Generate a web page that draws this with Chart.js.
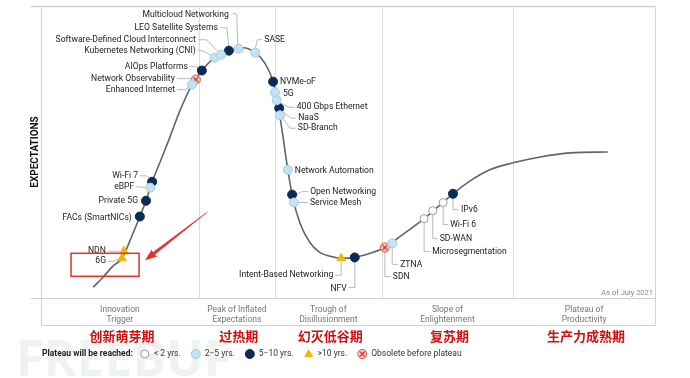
<!DOCTYPE html>
<html>
<head>
<meta charset="utf-8">
<script src="https://cdn.jsdelivr.net/npm/chart.js@4.4.1/dist/chart.umd.min.js"></script>
<style>
html, body { margin: 0; padding: 0; background: #fff; }
#wrap { width: 690px; height: 378px; position: relative; }
</style>
</head>
<body>
<div id="wrap"><canvas id="hype"></canvas></div>
<script>
// Hype cycle curve (x = maturity 0-100, y = expectations 0-100)
const curveX = [8.5, 10.1, 11.7, 13.2, 14.7, 16.1, 17.1, 18.1, 19.4, 21.0, 22.6, 24.6, 26.2, 28.3, 30.6, 32.9, 34.9, 36.5, 37.8, 38.6, 39.4, 40.2, 41.0, 42.2, 43.8, 45.4, 47.1, 48.9, 51.1, 53.6, 56.0, 58.5, 62.4, 67.1, 69.9, 73.1, 76.9, 81.3, 86.2, 92.3];
const curveY = [3.7, 7.1, 10.9, 13.6, 20.7, 27.9, 33.3, 39.8, 46.6, 55.1, 64.0, 73.1, 77.9, 82.3, 84.7, 85.7, 84.0, 80.3, 74.1, 66.3, 55.4, 43.9, 34.3, 25.5, 19.0, 15.6, 14.3, 13.6, 13.9, 15.3, 17.3, 21.1, 27.2, 35.7, 40.1, 43.9, 46.3, 48.3, 49.7, 50.0];

// Technologies on the curve
const techNames = ['6G', 'NDN', 'FACs (SmartNICs)', 'Private 5G', 'eBPF', 'Wi-Fi 7', 'Enhanced Internet', 'Network Observability', 'AIOps Platforms', 'Kubernetes Networking (CNI)', 'Software-Defined Cloud Interconnect', 'LEO Satellite Systems', 'Multicloud Networking', 'SASE', 'NVMe-oF', '5G', '400 Gbps Ethernet', 'NaaS', 'SD-Branch', 'Network Automation', 'Open Networking', 'Service Mesh', 'Intent-Based Networking', 'NFV', 'SDN', 'ZTNA', 'Microsegmentation', 'SD-WAN', 'Wi-Fi 6', 'IPv6'];
const techX = [13.2, 13.5, 16.1, 17.1, 17.8, 18.1, 24.6, 25.2, 26.2, 28.3, 29.3, 30.6, 32.2, 34.9, 37.8, 38.1, 38.4, 38.8, 38.9, 40.2, 40.9, 41.2, 48.9, 51.1, 56.0, 57.2, 62.4, 63.8, 65.5, 67.1];
const techY = [13.6, 16.0, 27.9, 33.3, 37.8, 39.8, 73.1, 74.8, 77.9, 82.3, 83.3, 84.7, 85.4, 84.0, 74.1, 70.4, 67.7, 65.0, 62.6, 43.9, 35.4, 32.7, 13.6, 13.9, 17.3, 18.7, 27.2, 29.9, 32.7, 35.7];
const techPlateau = ['gt10', 'gt10', '5to10', '5to10', '2to5', '5to10', '2to5', 'obs', '5to10', '2to5', '2to5', '5to10', '2to5', '2to5', '5to10', '2to5', '2to5', '5to10', '2to5', '2to5', '5to10', '2to5', 'gt10', '5to10', 'obs', '2to5', 'lt2', 'lt2', 'lt2', '5to10'];

// Phases
const phaseBounds = [0, 25.7, 38.1, 55.5, 76.9, 100];
const phaseNames = [['Innovation', 'Trigger'], ['Peak of Inflated', 'Expectations'], ['Trough of', 'Disillusionment'], ['Slope of', 'Enlightenment'], ['Plateau of', 'Productivity']];
const phaseNamesCn = ['创新萌芽期', '过热期', '幻灭低谷期', '复苏期', '生产力成熟期'];

const legendTitle = 'Plateau will be reached:';
const legendKeys = ['lt2', '2to5', '5to10', 'gt10', 'obs'];
const legendLabels = ['< 2 yrs.', '2−5 yrs.', '5−10 yrs.', '>10 yrs.', 'Obsolete before plateau'];

// label placement: text offset from marker, alignment, leader waypoints (offsets)
const labelLayout = [
  [-16, 3, 'right', [[-14, 3], [-9, 3], [-4, 1]]],
  [-18, 0, 'right', [[-16, 0], [-4, 0]]],
  [-8, 1, 'right', []],
  [-8, 0, 'right', []],
  [-16, -1, 'right', [[-14, -1], [-4, 0]]],
  [-14, -6, 'right', [[-12, -6], [-6, -6], [-2, -3]]],
  [-17, 5, 'right', [[-15, 5], [-7, 5], [-3, 3]]],
  [-21, -1, 'right', [[-19, -1], [-5, -1]]],
  [-14, -4, 'right', [[-12, -4], [-6, -4], [-3, -2]]],
  [-19, -7, 'right', [[-17, -7], [-12, -7], [-3, -2]]],
  [-25, -15, 'right', [[-23, -15], [-14, -15], [-3, -3]]],
  [-11, -23, 'right', [[-8, -23], [-2, -23], [0, -4]]],
  [-10, -34, 'right', [[-6, -35], [-2, -35], [-1, -4]]],
  [9, -13, 'left', [[7, -13], [2, -13], [0, -4]]],
  [7, 0, 'left', []],
  [8, 1, 'left', []],
  [20, 7, 'left', [[3, 2], [12, 7], [18, 7]]],
  [19, 10, 'left', [[3, 3], [12, 10], [17, 10]]],
  [18, 13, 'left', [[3, 3], [10, 13], [16, 13]]],
  [7, 1, 'left', []],
  [18, -3, 'left', [[4, 0], [10, -3], [16, -3]]],
  [16, 0, 'left', [[4, 0], [14, 0]]],
  [-8, 17, 'right', [[0, 4], [0, 17], [-6, 17]]],
  [-8, 31, 'right', [[0, 4], [0, 30], [-6, 30]]],
  [8, 29, 'left', [[0, 4], [0, 29], [6, 29]]],
  [8, 21, 'left', [[0, 4], [0, 21], [6, 21]]],
  [8, 33, 'left', [[0, 4], [0, 33], [6, 33]]],
  [7, 28, 'left', [[0, 4], [0, 28], [5, 28]]],
  [7, 22, 'left', [[0, 4], [0, 22], [5, 22]]],
  [8, 16, 'left', [[0, 4], [0, 16], [6, 16]]]
];

function obsoleteIcon(r) {
  const c = document.createElement('canvas');
  c.width = c.height = 2 * r + 2;
  const g = c.getContext('2d');
  const m = r + 1;
  g.fillStyle = '#fdeaea';
  g.strokeStyle = '#e8322b';
  g.lineWidth = 1;
  g.beginPath(); g.arc(m, m, r - 0.5, 0, Math.PI * 2); g.fill(); g.stroke();
  g.lineWidth = 1.7;
  const d = r * 0.5;
  g.beginPath();
  g.moveTo(m - d, m - d); g.lineTo(m + d, m + d);
  g.moveTo(m + d, m - d); g.lineTo(m - d, m + d);
  g.stroke();
  return c;
}

const styles = {
  lt2: { pointStyle: 'circle', bg: '#ffffff', border: '#9a9a9a', r: 4 },
  '2to5': { pointStyle: 'circle', bg: '#c4e2f3', border: '#a3cde3', r: 4.5 },
  '5to10': { pointStyle: 'circle', bg: '#0b2a58', border: '#0b2a58', r: 4.5 },
  gt10: { pointStyle: 'triangle', bg: '#f4b400', border: '#f4b400', r: 5 },
  obs: { pointStyle: obsoleteIcon(5), bg: '#fff', border: '#e8322b', r: 5 }
};

const datasets = [{
  type: 'line',
  data: curveX.map((v, i) => ({ x: v, y: curveY[i] })),
  borderColor: '#5c6868',
  borderWidth: 1.6,
  pointRadius: 0,
  cubicInterpolationMode: 'monotone',
  fill: false,
  order: 10
}];
legendKeys.forEach(k => {
  const s = styles[k];
  const pts = [];
  techNames.forEach((n, i) => { if (techPlateau[i] === k) pts.push({ x: techX[i], y: techY[i] }); });
  datasets.push({
    type: 'scatter',
    data: pts,
    pointStyle: s.pointStyle,
    backgroundColor: s.bg,
    borderColor: s.border,
    borderWidth: 1,
    pointRadius: s.r,
    order: 1
  });
});

function line(ctx, x0, y0, x1, y1) {
  ctx.beginPath(); ctx.moveTo(x0, y0); ctx.lineTo(x1, y1); ctx.stroke();
}

function drawMarker(ctx, k, cx, cy) {
  const s = styles[k];
  ctx.save();
  ctx.fillStyle = s.bg; ctx.strokeStyle = s.border; ctx.lineWidth = 1;
  if (k === 'gt10') {
    const r = s.r;
    ctx.beginPath();
    ctx.moveTo(cx, cy - r); ctx.lineTo(cx + r * 0.9, cy + r * 0.6); ctx.lineTo(cx - r * 0.9, cy + r * 0.6);
    ctx.closePath(); ctx.fill();
  } else if (k === 'obs') {
    ctx.drawImage(s.pointStyle, cx - s.r - 1, cy - s.r - 1);
  } else {
    ctx.beginPath(); ctx.arc(cx, cy, s.r, 0, Math.PI * 2); ctx.fill(); ctx.stroke();
  }
  ctx.restore();
}

const hypePlugin = {
  id: 'hype',
  beforeDatasetsDraw(chart) {
    const { ctx, chartArea: a, scales: { x, y } } = chart;
    ctx.save();
    // watermark
    ctx.fillStyle = 'rgba(205,220,210,0.35)';
    ctx.font = 'bold 50px "Open Sans"';
    ctx.textBaseline = 'alphabetic';
    ctx.fillText('FREEBUF', 16, 376);

    ctx.strokeStyle = '#dcdcdc';
    ctx.lineWidth = 1;
    phaseBounds.slice(1, -1).forEach(b => {
      const px = Math.round(x.getPixelForValue(b)) + 0.5;
      line(ctx, px, a.top, px, a.bottom);
    });
    const L = Math.round(a.left) + 0.5, R = Math.round(a.right) + 0.5;
    const T = Math.round(a.top) + 0.5, B = Math.round(a.bottom) + 0.5;
    const band = B + 27;
    ctx.strokeStyle = '#d3d3d3';
    ctx.lineWidth = 1.5;
    line(ctx, L - 11, T, R, T);
    ctx.lineWidth = 1;
    line(ctx, L - 11, B, R, B);
    line(ctx, L, T, L, band);
    line(ctx, R, T, R, band);
    line(ctx, L, band, R, band);

    // phase names
    ctx.fillStyle = '#777';
    ctx.font = '8.5px Roboto';
    ctx.textAlign = 'center';
    ctx.textBaseline = 'middle';
    phaseNames.forEach((p, i) => {
      const cx = (x.getPixelForValue(phaseBounds[i]) + x.getPixelForValue(phaseBounds[i + 1])) / 2;
      ctx.fillText(p[0], cx, B + 11);
      ctx.fillText(p[1], cx, B + 21);
    });
    ctx.fillStyle = '#d40d0d';
    ctx.font = 'bold 13px "Noto Sans CJK SC"';
    phaseNamesCn.forEach((p, i) => {
      const cx = (x.getPixelForValue(phaseBounds[i]) + x.getPixelForValue(phaseBounds[i + 1])) / 2;
      ctx.fillText(p, cx + 2, B + 38);
    });

    // as of
    ctx.fillStyle = '#8a8a8a';
    ctx.font = '7.5px Roboto';
    ctx.textAlign = 'right';
    ctx.fillText('As of July 2021', a.right - 2, a.bottom - 5);

    // y title
    ctx.save();
    ctx.translate(35, (a.top + a.bottom) / 2);
    ctx.rotate(-Math.PI / 2);
    ctx.fillStyle = '#111';
    ctx.font = 'bold 10px Roboto';
    ctx.textAlign = 'center';
    ctx.fillText('EXPECTATIONS', 0, 0);
    ctx.restore();

    // legend
    let lx = 42;
    const ly = 354;
    ctx.textAlign = 'left';
    ctx.fillStyle = '#222';
    ctx.font = 'bold 8.5px Roboto';
    ctx.fillText(legendTitle, lx, ly);
    lx += ctx.measureText(legendTitle).width + 12;
    ctx.font = '8.5px Roboto';
    legendKeys.forEach((k, i) => {
      drawMarker(ctx, k, lx, ly);
      ctx.fillStyle = '#333';
      ctx.fillText(legendLabels[i], lx + 9, ly);
      lx += 9 + ctx.measureText(legendLabels[i]).width + 15;
    });

    // leader lines
    ctx.strokeStyle = '#a8a8a8';
    ctx.lineWidth = 0.8;
    techNames.forEach((n, i) => {
      const path = labelLayout[i][3];
      if (!path.length) return;
      const px = x.getPixelForValue(techX[i]), py = y.getPixelForValue(techY[i]);
      ctx.beginPath();
      path.forEach((p, j) => { j ? ctx.lineTo(px + p[0], py + p[1]) : ctx.moveTo(px + p[0], py + p[1]); });
      ctx.stroke();
    });
    ctx.restore();
  },
  afterDatasetsDraw(chart) {
    const { ctx, scales: { x, y } } = chart;
    ctx.save();
    ctx.fillStyle = '#222';
    ctx.font = '8.6px Roboto';
    ctx.textBaseline = 'middle';
    techNames.forEach((n, i) => {
      const [dx, dy, align] = labelLayout[i];
      const px = x.getPixelForValue(techX[i]), py = y.getPixelForValue(techY[i]);
      ctx.textAlign = align;
      ctx.fillText(n, px + dx, py + dy);
    });

    // red annotation around 6G
    const gx = x.getPixelForValue(techX[0]), gy = y.getPixelForValue(techY[0]);
    ctx.strokeStyle = '#e8312a';
    ctx.lineWidth = 1.5;
    ctx.strokeRect(gx - 51, gy - 5, 68, 23);
    const x0 = gx + 85, y0 = gy - 46, x1 = gx + 23, y1 = gy + 2;
    const ang = Math.atan2(y1 - y0, x1 - x0), len = Math.hypot(x1 - x0, y1 - y0);
    ctx.translate(x0, y0);
    ctx.rotate(ang);
    ctx.fillStyle = '#e8312a';
    ctx.beginPath();
    ctx.moveTo(0, -0.3);
    ctx.lineTo(len - 11, -1.5);
    ctx.lineTo(len - 12, -4.5);
    ctx.lineTo(len, 0);
    ctx.lineTo(len - 12, 4.5);
    ctx.lineTo(len - 11, 1.5);
    ctx.lineTo(0, 0.3);
    ctx.closePath();
    ctx.fill();
    ctx.restore();
  }
};

new Chart(document.getElementById('hype'), {
  type: 'scatter',
  data: { datasets: datasets },
  options: {
    responsive: true,
    maintainAspectRatio: false,
    animation: false,
    layout: { padding: { left: 41, right: 35, top: 4, bottom: 80 } },
    scales: {
      x: { type: 'linear', min: 0, max: 100, display: false },
      y: { type: 'linear', min: 0, max: 100, display: false }
    },
    plugins: { legend: { display: false }, tooltip: { enabled: false } }
  },
  plugins: [hypePlugin]
});
</script>
</body>
</html>
